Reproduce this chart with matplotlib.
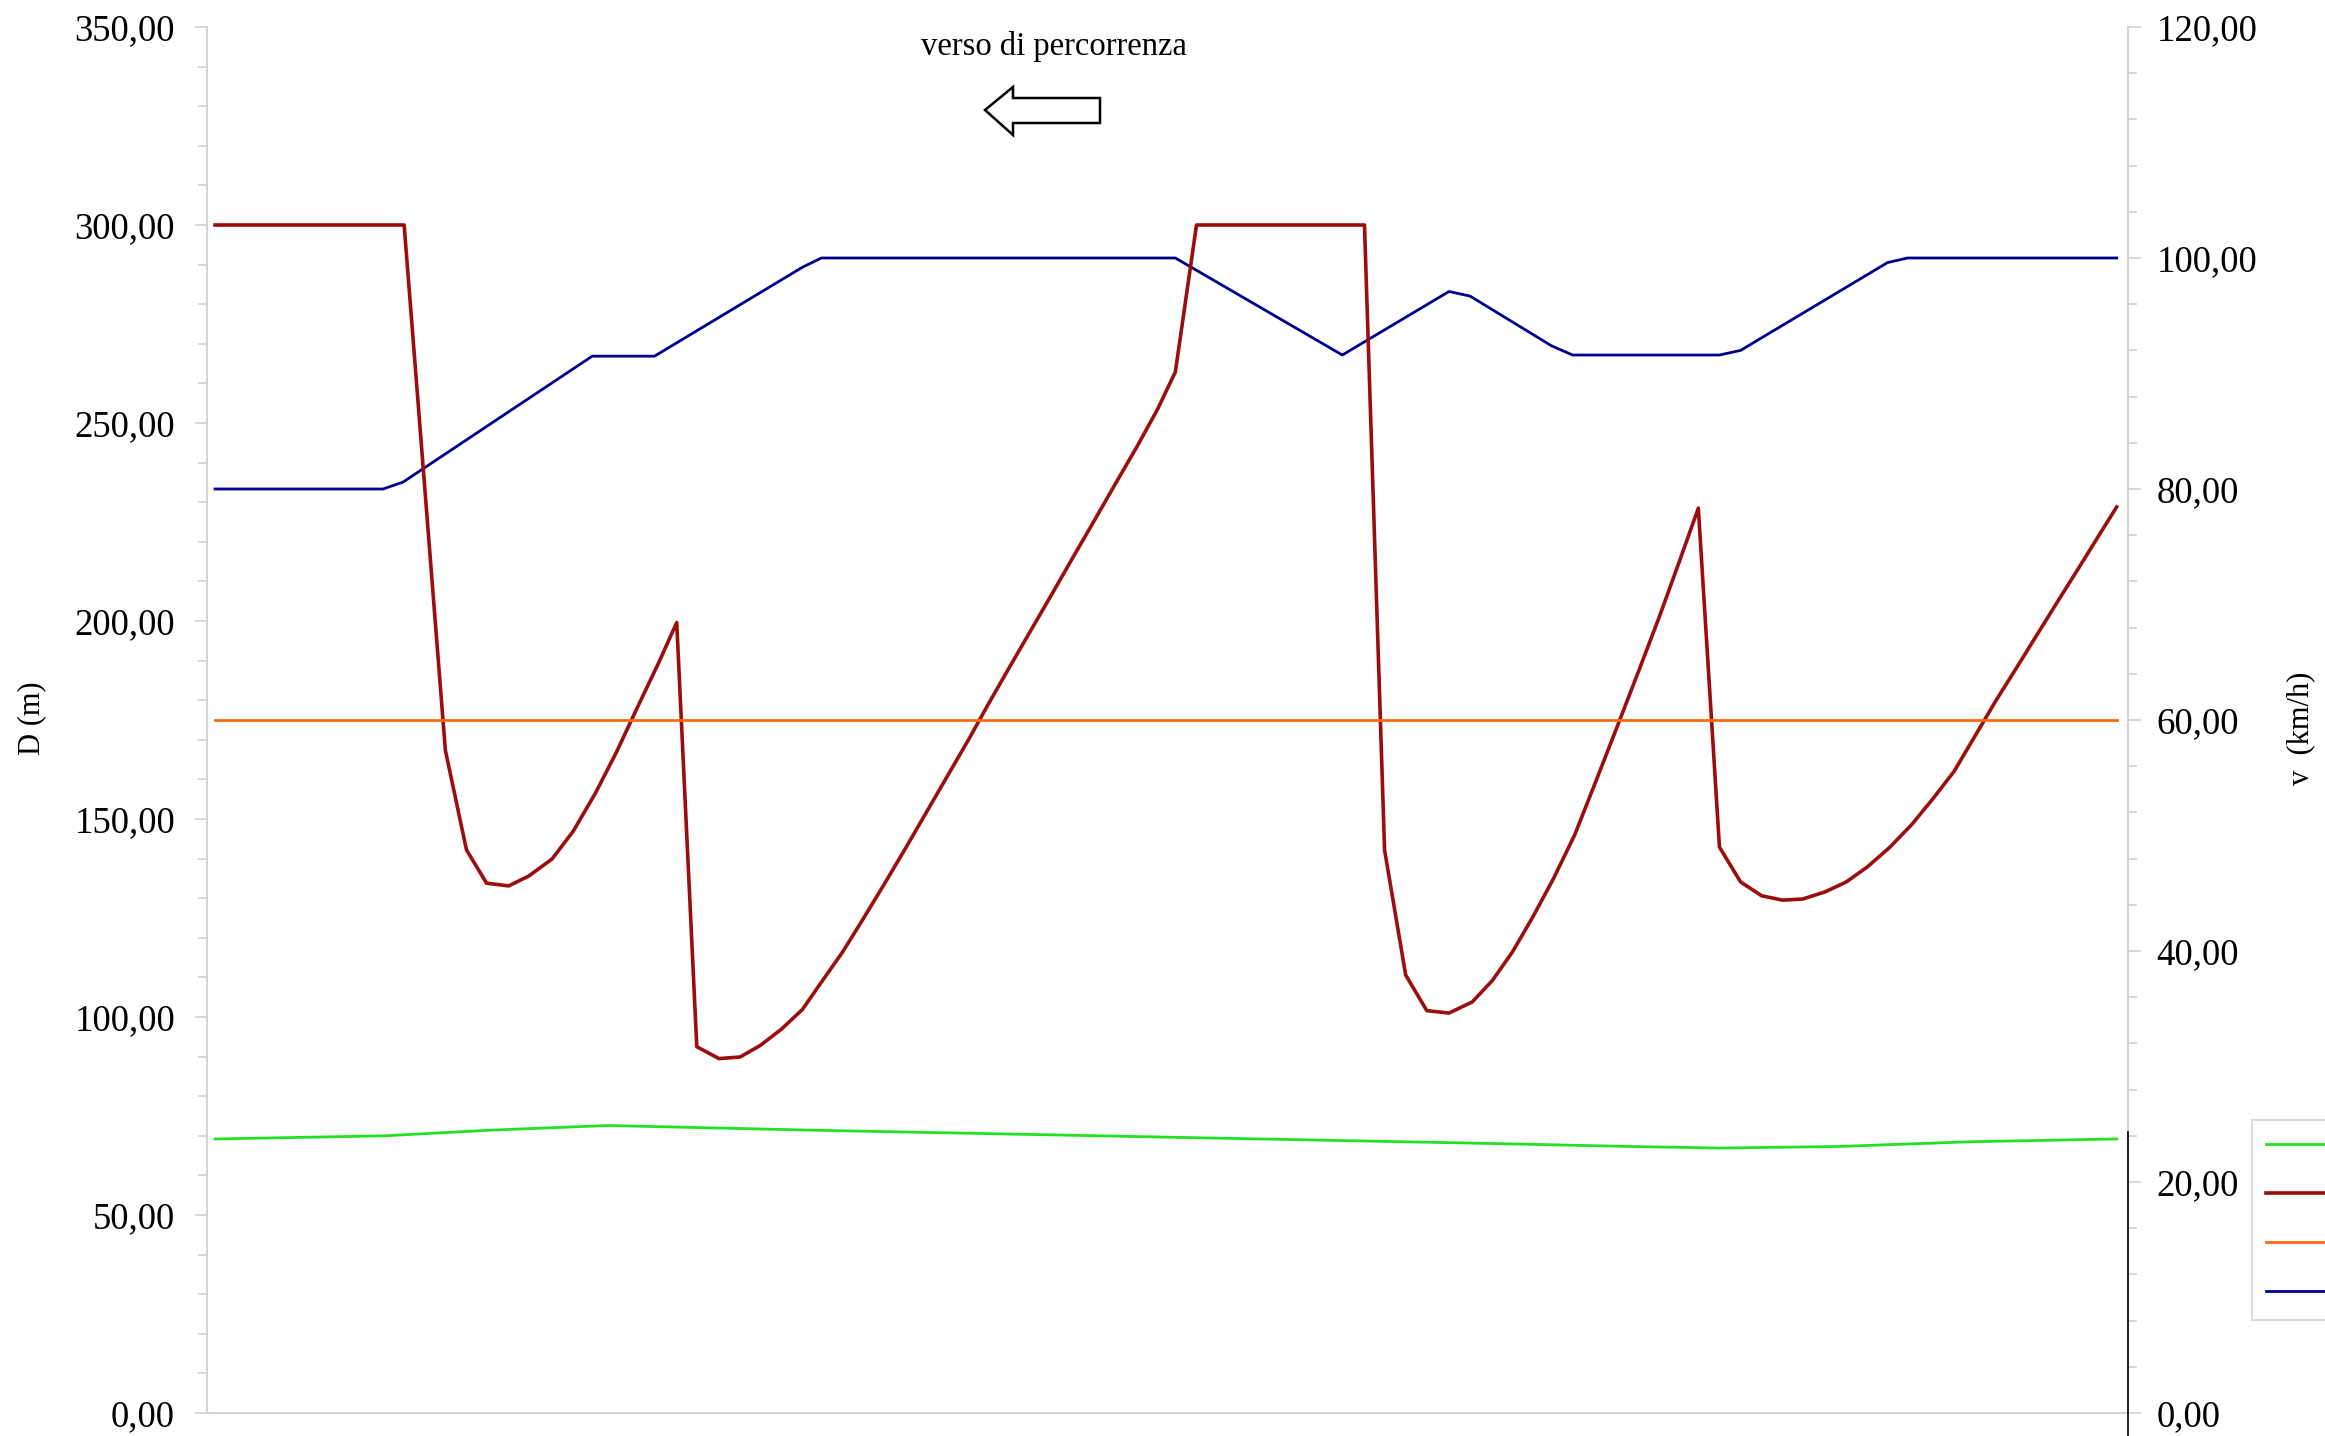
import matplotlib
matplotlib.use("Agg")
import matplotlib.pyplot as plt
from matplotlib.ticker import MultipleLocator, FuncFormatter
from matplotlib.patches import Polygon
from matplotlib.lines import Line2D

plt.rcParams["font.family"] = ["Liberation Serif", "DejaVu Serif"]

# progressiva (m) and values
green_x = [0, 161, 259, 372, 568, 779, 989, 1200, 1340, 1424, 1536, 1662, 1800]
green_d = [69.2, 70.0, 71.4, 72.6, 71.4, 70.3, 69.2, 68.1, 67.3, 66.9, 67.3, 68.5, 69.2]

red_x = [0, 179, 218, 238, 257, 278, 297, 319, 339, 360, 380, 400, 420, 437,
         456, 477, 497, 516, 536, 556, 575, 594, 614, 634, 654, 674, 694, 714,
         733, 753, 773, 793, 813, 833, 853, 873, 892, 909, 929, 1088, 1107,
         1127, 1147, 1168, 1190, 1209, 1228, 1247, 1267, 1287, 1307, 1327,
         1347, 1367, 1386, 1404, 1424, 1444, 1464, 1484, 1503, 1524, 1544,
         1564, 1585, 1606, 1626, 1646, 1666, 1685, 1705, 1725, 1745, 1765,
         1785, 1800]
red_d = [300, 300, 167.4, 142.2, 133.8, 133.1, 135.6, 139.9, 146.9, 156.5,
         166.9, 178.3, 189.5, 199.6, 92.5, 89.5, 89.9, 92.8, 96.9, 101.9,
         109.2, 116.4, 125.0, 133.8, 142.8, 152.0, 161.2, 170.4, 179.5, 188.8,
         198.0, 207.2, 216.5, 225.7, 235.0, 244.2, 253.4, 262.9, 300, 300,
         142.2, 110.6, 101.6, 101.0, 103.8, 109.2, 116.4, 125.1, 135.0, 146.0,
         159.5, 173.2, 187.0, 201.0, 215.0, 228.5, 142.9, 134.1, 130.6, 129.5,
         129.8, 131.6, 134.1, 137.9, 142.8, 148.6, 155.1, 162.0, 171.0, 179.6,
         188.1, 196.7, 205.3, 213.8, 222.4, 228.8]

orange_x = [0, 1800]
orange_d = [175, 175]

blue_x = [0, 159, 178, 357, 416, 556, 574, 909, 1067, 1168, 1188, 1265, 1285,
          1424, 1444, 1583, 1602, 1800]
blue_v = [80, 80, 80.6, 91.5, 91.5, 99.2, 100, 100, 91.6, 97.1, 96.7, 92.4,
          91.6, 91.6, 92.0, 99.6, 100, 100]

W, H = 2325, 1436
fig = plt.figure(figsize=(W / 100, H / 100), dpi=100)
ax = fig.add_axes([207 / W, 23 / H, (2128 - 207) / W, (1413 - 27) / H])
ax2 = ax.twinx()

l1, = ax.plot(green_x, green_d, color="#22e022", lw=2.0)
l2, = ax.plot(red_x, red_d, color="#9a0e0e", lw=2.6)
l3, = ax.plot(orange_x, orange_d, color="#ff6a10", lw=2.0)
l4, = ax2.plot(blue_x, blue_v, color="#00008f", lw=2.0)

ax.set_zorder(ax2.get_zorder() + 1)
ax.patch.set_visible(False)

ax.set_xlim(-7.6, 1810.7)
ax.set_ylim(0, 350)
ax2.set_ylim(0, 120)

fmt = FuncFormatter(lambda v, p: f"{v:.2f}".replace(".", ","))
ax.yaxis.set_major_locator(MultipleLocator(50))
ax.yaxis.set_minor_locator(MultipleLocator(10))
ax.yaxis.set_major_formatter(fmt)
ax2.yaxis.set_major_locator(MultipleLocator(20))
ax2.yaxis.set_minor_locator(MultipleLocator(4))
ax2.yaxis.set_major_formatter(fmt)

grey = "#d4d4d4"
for a in (ax, ax2):
    for s in a.spines.values():
        s.set_visible(False)
ax.spines["left"].set_visible(True)
ax.spines["bottom"].set_visible(True)
ax2.spines["right"].set_visible(True)
for s in (ax.spines["left"], ax.spines["bottom"], ax2.spines["right"]):
    s.set_color(grey)
    s.set_linewidth(1.5)

ax.tick_params(axis="x", bottom=False, labelbottom=False)
ax2.tick_params(axis="x", bottom=False, labelbottom=False)
ax.tick_params(axis="y", which="major", length=9, width=1.3, color=grey,
               labelsize=26.5, pad=14)
ax.tick_params(axis="y", which="minor", length=6.5, width=1.3, color=grey)
ax2.tick_params(axis="y", which="major", length=9, width=1.3, color=grey,
                labelsize=26.5, pad=11.5)
ax2.tick_params(axis="y", which="minor", length=6.5, width=1.3, color=grey)

fig.text(32 / W, 1 - 718 / H, "D (m)", rotation=90, fontsize=22,
         ha="center", va="center")
fig.text(2301 / W, 1 - 728 / H, "v  (km/h)", rotation=90, fontsize=22,
         ha="center", va="center")

fig.text(1054 / W, 1 - 47 / H, "verso di percorrenza", fontsize=23.5,
         ha="center", va="center")

# direction arrow
arrow_px = [(985, 110), (1013, 87), (1013, 98), (1100, 98), (1100, 123),
            (1013, 123), (1013, 135)]
arrow = Polygon([(x / W, 1 - y / H) for x, y in arrow_px], closed=True,
                transform=fig.transFigure, facecolor="white",
                edgecolor="black", lw=1.8)
fig.patches.append(arrow)

# stray dark line under the right axis
fig.lines.append(Line2D([2128 / W, 2128 / W], [0, 1 - 1132 / H],
                        transform=fig.transFigure, color="black", lw=1.2))

# legend box runs off the right edge, its labels are not visible
leg = fig.legend([l1, l2, l3, l4], ["", "", "", ""], loc="upper left",
                 bbox_to_anchor=(2252 / W, 1 - 1120 / H),
                 bbox_transform=fig.transFigure, borderaxespad=0,
                 fontsize=20, labelspacing=0.85, borderpad=0.5,
                 handlelength=4, fancybox=False, frameon=True)
leg.get_frame().set_edgecolor(grey)
leg.get_frame().set_linewidth(1.5)

fig.savefig("out.png", dpi=100)
